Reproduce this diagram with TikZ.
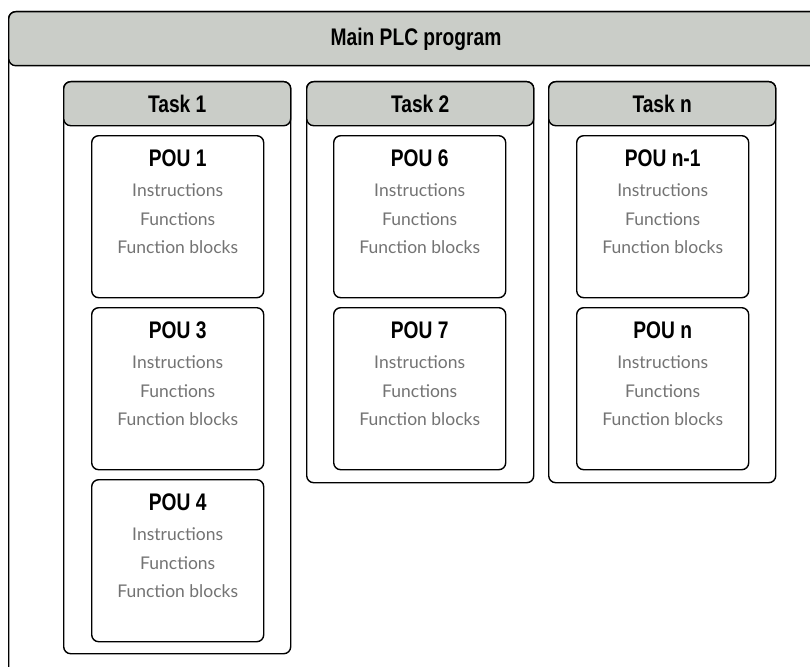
\documentclass[tikz,border=0pt]{standalone}
\usepackage{fontspec}
\newfontfamily\headfont{Liberation Sans}[FakeStretch=0.8]
\newfontfamily\bodyfont{Lato}
\definecolor{headgray}{RGB}{202,205,200}
\definecolor{textgray}{RGB}{115,115,115}
\begin{document}
\begin{tikzpicture}[x=1pt,y=-1pt,
  frame/.style={draw=black,line width=1.4pt,rounded corners=7pt,anchor=north west,inner sep=0pt,fill=white},
  header/.style={frame,fill=headgray},
  pou/.style={frame,minimum width=172pt,minimum height=162pt},
  taskbox/.style={frame,minimum width=227pt},
  titletext/.style={font=\headfont\bfseries\fontsize{24}{28}\selectfont,text=black,inner sep=0pt,anchor=base},
  itemtext/.style={font=\bodyfont\fontsize{17.5}{20}\selectfont,text=textgray,inner sep=0pt,anchor=base}]
\useasboundingbox (0,0) rectangle (810,666);
\clip (0,0) rectangle (810,666);
% main program frame and its header band
\node[frame,minimum width=830pt,minimum height=700pt] (main) at (8,11) {};
\node[header,minimum width=830pt,minimum height=54pt] (mainhead) at (8,11) {};
\node[titletext] (maintitle) at (416,46) {Main PLC program};
% task frames
\node[taskbox,minimum height=572pt] (task1) at (63,81) {};
\node[taskbox,minimum height=401pt] (task2) at (306,81) {};
\node[taskbox,minimum height=401pt] (taskn) at (548,81) {};
\foreach \t/\x/\lab in {1/63/Task 1, 2/306/Task 2, n/548/Task n}{
  \node[header,minimum width=227pt,minimum height=44pt] (task\t head) at (\x,81) {};
  \node[titletext] (task\t title) at ([yshift=-32pt]task\t head.north) {\lab};
}
% program organisation units
\foreach \p/\x/\y/\lab in {1/91/135/POU 1, 3/91/307/POU 3, 4/91/479/POU 4,
                           6/333/135/POU 6, 7/333/307/POU 7,
                           n1/576/135/POU n-1, n/576/307/POU n}{
  \node[pou] (pou\p) at (\x,\y) {};
  \node[titletext] (pou\p title) at ([yshift=-31pt]pou\p.north) {\lab};
  \node[itemtext] (pou\p ins) at ([yshift=-61pt]pou\p.north) {Instructions};
  \node[itemtext] (pou\p fun) at ([yshift=-90pt]pou\p.north) {Functions};
  \node[itemtext] (pou\p fb) at ([yshift=-118pt]pou\p.north) {Function blocks};
}
\end{tikzpicture}
\end{document}
